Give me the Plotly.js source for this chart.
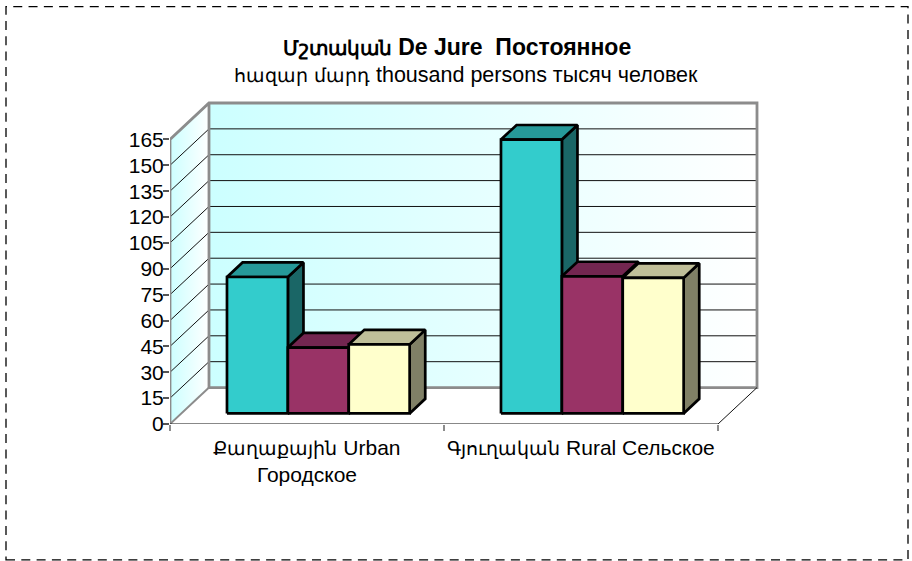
<!DOCTYPE html>
<html><head><meta charset="utf-8">
<script src="https://cdn.plot.ly/plotly-3.0.1.min.js"></script>
<style>html,body{margin:0;padding:0;background:#fff}</style></head>
<body><div id="chart" style="width:912px;height:561px"></div>
<script>
const categories = ["Քաղաքային Urban<br>Городское", "Գյուղական Rural Сельское"];
const seriesA = [79.1, 158.8];
const seriesB = [38.2, 79.5];
const seriesC = [40.0, 78.6];
const yTicks = [0,15,30,45,60,75,90,105,120,135,150,165];
const titleText = "Մշտական De Jure  Постоянное";
const subtitleText = "հազար մարդ thousand persons тысяч человек";

const W=912,H=561,pad=6;
const mL=170,mR=155-pad,mT=102.5-pad,mB=137;
const pxPerCat=274, pxPerVal=1.727;
const depthX=39/pxPerCat, depthY=36.5/pxPerVal;
const yMax=165, xMax=2;
const barW=1/4.5, gap=(1-3*barW)/2;
const fStart=0.29, fDepth=0.40;
const font='"Liberation Sans", Arial, sans-serif';
// Armenian falls back to a wider face, so its runs are set a little smaller
const arm=(s,size)=>s.replace(/[\u0530-\u058F]+/g,m=>`<span style="font-size:${size}px">${m}</span>`);

const series=[
 {v:seriesA,front:'#33cccc',top:'#269999',side:'#1a6666'},
 {v:seriesB,front:'#993366',top:'#732650',side:'#4d1a33'},
 {v:seriesC,front:'#ffffcc',top:'#bfbf99',side:'#808066'}
];
const traces=[];
function poly(xs,ys,o){ traces.push(Object.assign({type:'scatter',mode:'lines',x:xs,y:ys,hoverinfo:'skip',showlegend:false,cliponaxis:false},o)); }
const grey='#8c8c8c', ink='#111';

const grad={type:'horizontal',colorscale:[[0,'#ccffff'],[1,'#ffffff']]};
poly([depthX,xMax+depthX,xMax+depthX,depthX,depthX],[depthY,depthY,yMax+depthY,yMax+depthY,depthY],{fill:'toself',fillgradient:grad,line:{width:0}});
poly([0,depthX,depthX,0,0],[0,depthY,yMax+depthY,yMax,0],{fill:'toself',fillgradient:grad,line:{width:0}});
yTicks.slice(1,-1).forEach(t=>{
  poly([0,depthX,xMax+depthX],[t,t+depthY,t+depthY],{line:{color:ink,width:1}});
});
poly([0,0,depthX,xMax+depthX,xMax+depthX,depthX,depthX],[0,yMax,yMax+depthY,yMax+depthY,depthY,depthY,yMax+depthY],{line:{color:grey,width:2.8}});
poly([0,depthX],[0,depthY],{line:{color:grey,width:2}});
poly([0,xMax,xMax+depthX],[0,0,depthY],{line:{color:ink,width:1}});

categories.forEach((c,ci)=>{
  series.forEach((s,si)=>{
    const x0=ci+gap+si*barW+fStart*depthX, x1=x0+barW, b=fStart*depthY, t=b+s.v[ci];
    const dx=fDepth*depthX, dy=fDepth*depthY;
    const ln={color:'#000',width:2.7};
    poly([x1,x1+dx,x1+dx,x1,x1],[b,b+dy,t+dy,t,b],{fill:'toself',fillcolor:s.side,line:ln});
    poly([x0,x1,x1+dx,x0+dx,x0],[t,t,t+dy,t+dy,t],{fill:'toself',fillcolor:s.top,line:ln});
    poly([x0,x1,x1,x0,x0],[b,b,t,t,b],{fill:'toself',fillcolor:s.front,line:ln});
  });
});

const layout={
  width:W,height:H,paper_bgcolor:'#fff',plot_bgcolor:'rgba(0,0,0,0)',
  margin:{l:mL,r:mR,t:mT,b:mB,pad:0},showlegend:false,
  font:{family:font,color:'#000'},
  title:{text:arm(titleText,19.5),font:{family:font,size:23,weight:700,color:'#000'},x:457/W,xanchor:'center',xref:'container',y:1-47/H,yanchor:'middle',yref:'container'},
  xaxis:{range:[0,xMax+depthX+pad/pxPerCat],tickmode:'array',tickvals:[0.5,1.5],ticktext:categories.map(c=>arm(c,19)),ticks:'',showgrid:false,zeroline:false,showline:false,
    tickfont:{family:font,size:21,color:'#000'},fixedrange:true,ticklabelstandoff:9,
    minor:{tickmode:'array',tickvals:[0,1,2],ticks:'outside',ticklen:6,tickwidth:1.5,tickcolor:grey,showgrid:false}},
  yaxis:{range:[0,yMax+depthY+pad/pxPerVal],tickmode:'array',tickvals:yTicks,ticks:'outside',ticklen:6,tickwidth:1.5,tickcolor:'#555',showgrid:false,zeroline:false,showline:false,
    tickfont:{family:font,size:21,color:'#000'},fixedrange:true,ticklabelstandoff:-5},
  annotations:[{text:arm(subtitleText,18.5),xref:'paper',yref:'paper',x:(466-mL)/(W-mL-mR),y:1+(mT-74)/(H-mT-mB),xanchor:'center',yanchor:'middle',showarrow:false,font:{family:font,size:21.5,color:'#000'}}],
  shapes:[{type:'rect',xref:'paper',yref:'paper',
    x0:(6-mL)/(W-mL-mR),x1:(908-mL)/(W-mL-mR),
    y0:-(560-(H-mB))/(H-mT-mB),y1:1+(mT-6)/(H-mT-mB),
    line:{color:'#000',width:1.3,dash:'9px,6.3px'},fillcolor:'rgba(0,0,0,0)'}]
};
Plotly.newPlot('chart',traces,layout,{displayModeBar:false,responsive:false});
</script></body></html>
